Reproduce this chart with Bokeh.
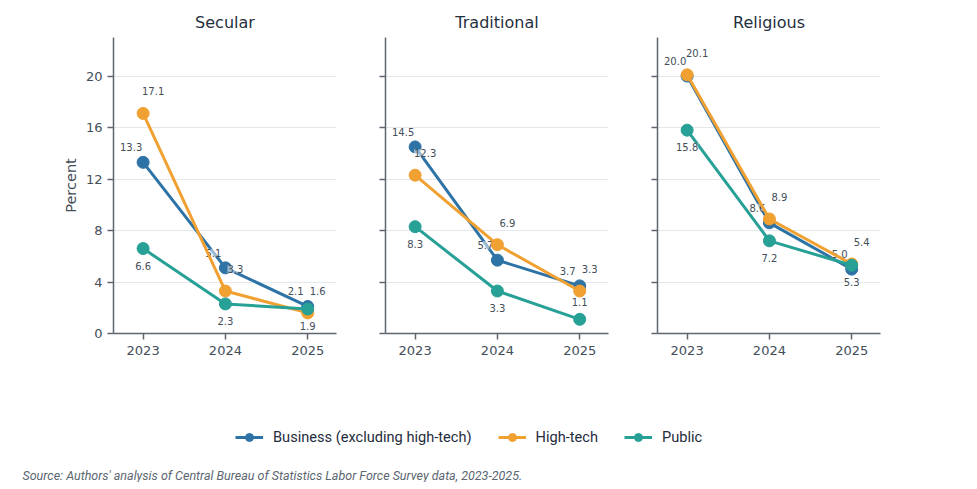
import numpy as np
from bokeh.plotting import figure
from bokeh.layouts import row, column
from bokeh.models import (Range1d, FixedTicker, CustomJSTickFormatter, Legend,
                          LegendItem, Label, ColumnDataSource)
from bokeh.core.properties import value
from bokeh.embed import file_html
from bokeh.resources import INLINE

years = [2023, 2024, 2025]
panels = ["Secular", "Traditional", "Religious"]
series = ["Business (excluding high-tech)", "High-tech", "Public"]

business = {"Secular": [13.3, 5.1, 2.1], "Traditional": [14.5, 5.7, 3.7], "Religious": [20.0, 8.6, 5.0]}
hightech = {"Secular": [17.1, 3.3, 1.6], "Traditional": [12.3, 6.9, 3.3], "Religious": [20.1, 8.9, 5.4]}
public = {"Secular": [6.6, 2.3, 1.9], "Traditional": [8.3, 3.3, 1.1], "Religious": [15.8, 7.2, 5.3]}

y_ticks = [0, 4, 8, 12, 16, 20]
source_note = "Source: Authors' analysis of Central Bureau of Statistics Labor Force Survey data, 2023-2025."

COLORS = ["#2e73a6", "#f0a131", "#27a096"]
# label offsets (px): business up-left, high-tech up-right, public below
OFFSETS = [(-12, -15), (10, -22), (0, 17)]
AXIS_COLOR = "#5b6670"
TEXT_COLOR = "#434e59"
TITLE_COLOR = "#1f3040"
FONT = "DejaVu Sans"


def panel(name, first):
    p = figure(title=name, frame_width=223, frame_height=296,
               x_range=Range1d(2022.64, 2025.35), y_range=Range1d(0, 23),
               tools="", toolbar_location=None, output_backend="svg",
               min_border_left=113 if first else 39, min_border_right=10,
               min_border_top=37, min_border_bottom=37)
    p.outline_line_color = None
    p.title.align = "center"
    p.title.text_font = FONT
    p.title.text_font_size = "16px"
    p.title.text_font_style = "normal"
    p.title.text_color = TITLE_COLOR
    p.title.standoff = 12

    p.xgrid.grid_line_color = None
    p.ygrid.grid_line_color = "#e3e8ec"
    p.ygrid.grid_line_width = 1.2

    p.xaxis.ticker = FixedTicker(ticks=years)
    p.yaxis.ticker = FixedTicker(ticks=y_ticks)
    for ax in (p.xaxis, p.yaxis):
        ax.axis_line_color = AXIS_COLOR
        ax.axis_line_width = 1.5
        ax.major_tick_line_color = AXIS_COLOR
        ax.major_tick_line_width = 1.5
        ax.major_tick_in = 0
        ax.major_tick_out = 6
        ax.minor_tick_line_color = None
        ax.major_label_text_font = FONT
        ax.major_label_text_font_size = "13px"
        ax.major_label_text_color = TEXT_COLOR
    p.xaxis.major_label_standoff = 6
    if first:
        p.yaxis.axis_label = "Percent"
        p.yaxis.axis_label_text_font = FONT
        p.yaxis.axis_label_text_font_size = "14.5px"
        p.yaxis.axis_label_text_font_style = "normal"
        p.yaxis.axis_label_text_color = TEXT_COLOR
        p.yaxis.axis_label_standoff = 4
    else:
        p.yaxis.formatter = CustomJSTickFormatter(code="return ''")

    for vals, color, (dx, dy) in zip([business[name], hightech[name], public[name]], COLORS, OFFSETS):
        # labels that would drop under the axis go above the point instead
        dys = [dy if (dy < 0 or v > 1.5) else -dy for v in vals]
        src = ColumnDataSource(dict(x=years, y=vals, t=["%.1f" % v for v in vals], dy=dys))
        p.line("x", "y", source=src, line_color=color, line_width=3)
        p.scatter("x", "y", source=src, size=12, fill_color=color, line_color=color)
        p.text("x", "y", text="t", source=src, x_offset=dx, y_offset="dy",
               text_align="center", text_baseline="middle",
               text_font=value(FONT), text_font_size="10px", text_color=TEXT_COLOR,
               background_fill_color="white", background_fill_alpha=0.5)
    return p


figs = [panel(n, i == 0) for i, n in enumerate(panels)]

# legend + source strip
b = figure(width=961, height=112, x_range=Range1d(0, 1), y_range=Range1d(0, 1),
           tools="", toolbar_location=None, output_backend="svg",
           min_border=0)
b.axis.visible = False
b.grid.visible = False
b.outline_line_color = None
items = []
for name, vals, color in zip(series, [business["Secular"], hightech["Secular"], public["Secular"]], COLORS):
    # drawn outside the visible range; only used for the legend glyphs
    ln = b.line(years, vals, line_color=color, line_width=3)
    sc = b.scatter(years, vals, size=12, fill_color=color, line_color=color)
    items.append(LegendItem(label=name, renderers=[ln, sc]))
leg = Legend(items=items, orientation="horizontal", location=(235, 35),
             glyph_width=28, glyph_height=20, label_standoff=10, spacing=26,
             padding=0, margin=0, border_line_color=None, background_fill_alpha=0,
             label_text_font="Roboto", label_text_font_size="14.6px",
             label_text_color="#1f2d3d")
b.add_layout(leg, "center")
b.add_layout(Label(x=22, y=7, x_units="screen", y_units="screen", text=source_note,
                   text_font="Roboto", text_font_size="12.5px", text_font_style="italic",
                   text_color="#5b6670", text_baseline="middle"))

p = column(row(*figs), b)
open("out.html", "w").write(file_html(p, INLINE))
